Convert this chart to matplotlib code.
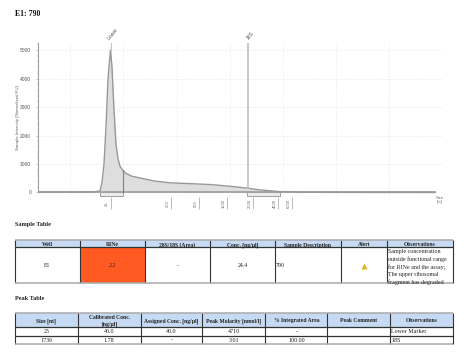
import matplotlib
matplotlib.use("Agg")
import matplotlib.pyplot as plt
import numpy as np
from matplotlib.patches import Rectangle

W, H = 475, 353
plt.rcParams['font.family'] = ['Liberation Serif', 'DejaVu Sans']

# Electropherogram: migration position (axis units) and intensity (FU)
trace_pos = [38, 60, 80, 95, 100, 102, 104, 106, 108, 110.5, 112, 114, 116, 118, 120, 122.5,
             126, 132, 140, 155, 170, 190, 210, 230, 248, 260, 280, 300, 330, 380, 435]
trace_fu = [15, 15, 15, 20, 60, 350, 1000, 2300, 4000, 5000, 4400, 2900, 1700, 1180, 920, 790,
            670, 570, 510, 400, 340, 310, 280, 220, 150, 90, 30, 12, 5, 2, 0]
ladder_pos = [110.5, 171, 199, 226.7, 253.3, 278, 292]
ladder_labels = ['25', '200', '500', '1000', '2000', '4000', '6000']
y_ticks = [0, 1000, 2000, 3000, 4000, 5000]
grid_pos = [70, 123, 176.5, 229.5, 282.7, 336, 389, 442]
fill_range = (100, 280)
region_starts = [100, 246.5]
region_ends = [122.5, 279.5]
peak_pos = [110.5, 248]
peak_labels = ['Lower', '18S']

# Tables
sample_head = ['Well', 'RINe', '28S/18S (Area)', 'Conc. [ng/µl]', 'Sample Description', 'Alert', 'Observations']
sample_row = ['E1', '2.2', '-', '24.4', '790', '', '']
sample_obs = ['Sample concentration', 'outside functional range', 'for RINe and the assay;',
              'The upper ribosomal', 'fragment has degraded']
peak_head = ['Size [nt]', 'Calibrated Conc.\n[ng/µl]', 'Assigned Conc. [ng/µl]', 'Peak Molarity [nmol/l]',
             '% Integrated Area', 'Peak Comment', 'Observations']
peak_rows = [['25', '40.0', '40.0', '4710', '-', '', 'Lower Marker'],
             ['1736', '1.78', '-', '3.01', '100.00', '', '18S']]

fig = plt.figure(figsize=(W / 100, H / 100), dpi=100, facecolor='white')
SANS = ['Liberation Sans', 'DejaVu Sans']

# ---------- chart ----------
L, R, T, B = 38, 442, 43, 197
ax = fig.add_axes([L / W, 1 - B / H, (R - L) / W, (B - T) / H])
ax.set_xlim(L, R)
ax.set_ylim(-158, 5246)
pos = np.array(trace_pos, float)
fu = np.array(trace_fu, float)
for g in grid_pos:
    ax.axvline(g, color='#e6e6e6', lw=0.5, ls=(0, (1, 1)), zorder=0)
for v in y_ticks[1:]:
    ax.axhline(v, color='#e6e6e6', lw=0.5, ls=(0, (1, 1)), zorder=0)
ax.axhline(0, xmax=(435 - L) / (R - L), color='#a5a5a5', lw=1.4, zorder=2)
mask = (pos >= fill_range[0]) & (pos <= fill_range[1])
ax.fill_between(pos[mask], 0, fu[mask], color='#dedede', lw=0, zorder=1)
ax.plot(pos, fu, color='#989898', lw=1.0, zorder=3)

# integration boundaries and the brackets below the baseline
for s, e in zip(region_starts, region_ends):
    ax.add_patch(Rectangle((s, -130), e - s, 130, fc='#ececec', ec='#a0a0a0', lw=0.7, zorder=2))
for e in region_ends:
    ax.plot([e, e], [0, np.interp(e, pos, fu)], color='#808080', lw=0.8, zorder=4)

# peak markers
ax.plot([peak_pos[1]] * 2, [np.interp(peak_pos[1], pos, fu), 5246], color='#bdbdbd', lw=1.2, zorder=3)
ax.plot([peak_pos[0]] * 2, [5000, 5246], color='#c8c8c8', lw=0.8, zorder=3)
for p, lab in zip(peak_pos, peak_labels):
    ax.annotate(lab, xy=(p, 1), xycoords=ax.get_xaxis_transform(), xytext=(1.5, 2), textcoords='offset points',
                rotation=50, ha='center', va='bottom', fontsize=3.6, color='#555555', family=SANS)

for s in ('top', 'right', 'bottom'):
    ax.spines[s].set_visible(False)
ax.spines['left'].set_color('#a0a0a0')
ax.spines['left'].set_linewidth(0.8)
ax.spines['left'].set_bounds(0, 5246)
ax.patch.set_alpha(0)

ax.set_yticks(y_ticks)
ax.set_yticks(np.arange(0, 5201, 200), minor=True)
ax.tick_params(axis='y', which='major', length=1.5, width=0.4, color='#999999', labelsize=3.5,
               labelcolor='#555555', pad=3.5)
ax.tick_params(axis='y', which='minor', length=0.8, width=0.3, color='#999999')
for t in ax.get_yticklabels():
    t.set_family(SANS)
ax.set_xticks(ladder_pos)
ax.set_xticklabels([])
ax.tick_params(axis='x', length=8.6, width=0.6, color='#b0b0b0')
for p, lab in zip(ladder_pos, ladder_labels):
    ax.annotate(lab, xy=(p, 0), xycoords=ax.get_xaxis_transform(), xytext=(-2.4, -4.5), textcoords='offset points',
                rotation=90, ha='center', va='center', fontsize=3, color='#666666', family=SANS)
fig.text(17.7 / W, 1 - 117.5 / H, 'Sample Intensity [Normalized FU]', rotation=90, ha='center', va='center',
         fontsize=3.2, color='#666666', family=SANS)
fig.text(439.5 / W, 1 - 200 / H, 'Size\n[nt]', ha='center', va='center', fontsize=3, color='#666666',
         linespacing=1.3, family=SANS)

# ---------- page overlay (pixel coordinates) ----------
pg = fig.add_axes([0, 0, 1, 1], zorder=5)
pg.set_xlim(0, W)
pg.set_ylim(H, 0)
pg.axis('off')
pg.patch.set_alpha(0)
TXT = '#222222'


def table(xs, ys):
    for x in xs:
        pg.plot([x, x], [ys[0], ys[-1]], color='#333333', lw=0.8, solid_capstyle='butt')
    for i, y in enumerate(ys):
        edge = i == 0 or i == len(ys) - 1
        pg.plot([xs[0], xs[-1]], [y, y], color='#aaaaaa' if edge else '#333333', lw=1.1 if edge else 0.9,
                solid_capstyle='butt')


pg.text(15, 14, 'E1: 790', fontsize=5.6, weight='bold', va='center', color='#111111')
pg.text(15, 224.5, 'Sample Table', fontsize=4.5, weight='bold', va='center', color=TXT)
pg.text(15, 298.5, 'Peak Table', fontsize=4.5, weight='bold', va='center', color=TXT)

# sample table
sx = [15, 80, 145, 210, 275, 340.7, 387, 452.7]
sy = [240, 247.3, 283]
pg.add_patch(Rectangle((sx[0], sy[0]), sx[-1] - sx[0], sy[1] - sy[0], fc='#c6daf3', ec='none'))
pg.add_patch(Rectangle((sx[1], sy[1]), sx[2] - sx[1], sy[2] - sy[1], fc='#ff5a22', ec='none'))
table(sx, sy)
for i, h in enumerate(sample_head):
    pg.text((sx[i] + sx[i + 1]) / 2, 244.5, h, fontsize=4.1, weight='bold', ha='center', va='center_baseline',
            color=TXT)
for i, v in enumerate(sample_row):
    if i == 4:
        pg.text(sx[i] + 1, 265.5, v, fontsize=4.2, ha='left', va='center', color=TXT)
    elif v:
        pg.text((sx[i] + sx[i + 1]) / 2, 265.5, v, fontsize=4.2, ha='center', va='center', color=TXT)
pg.plot([364], [265.5], marker='^', ms=4.2, color='#dcb324', mec='none')
for i, line in enumerate(sample_obs):
    pg.text(sx[6] + 1, 251.7 + i * 7.5, line, fontsize=4.3, ha='left', va='center', color=TXT)

# peak table
px = [15, 77.7, 140.7, 202.3, 265.3, 327.3, 390, 452.7]
py = [313, 327.3, 335.7, 344.3]
pg.add_patch(Rectangle((px[0], py[0]), px[-1] - px[0], py[1] - py[0], fc='#c6daf3', ec='none'))
table(px, py)
for i, h in enumerate(peak_head):
    pg.text((px[i] + px[i + 1]) / 2, 320.8, h, fontsize=4.1, weight='bold', ha='center', va='center',
            color=TXT, linespacing=1.25)
for r, row in enumerate(peak_rows):
    yc = (py[r + 1] + py[r + 2]) / 2
    for i, v in enumerate(row):
        if i == 6:
            pg.text(px[i] + 1, yc, v, fontsize=4.3, ha='left', va='center', color=TXT)
        elif v:
            pg.text((px[i] + px[i + 1]) / 2, yc, v, fontsize=4.3, ha='center', va='center', color=TXT)

fig.savefig('out.png', dpi=100, facecolor='white')
